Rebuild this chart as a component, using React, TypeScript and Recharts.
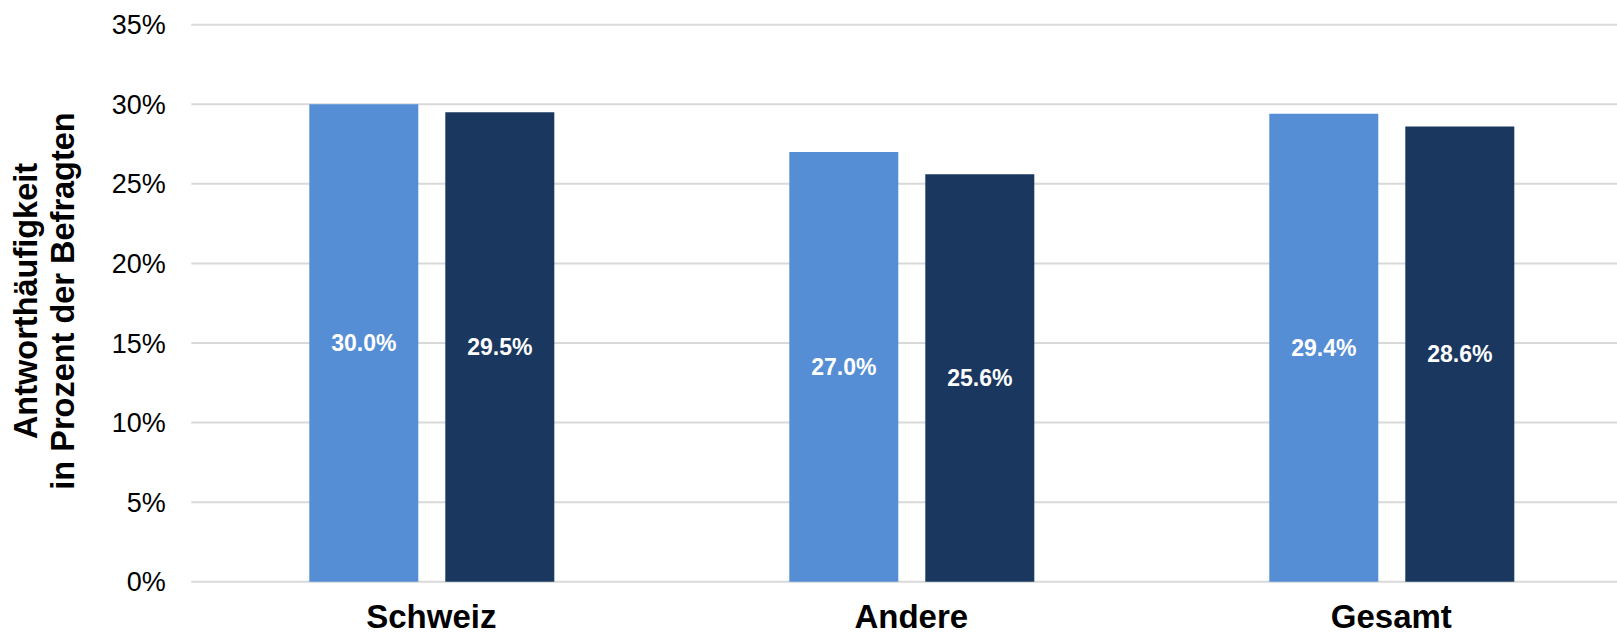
import React from "react";
import { BarChart, Bar, XAxis, YAxis, CartesianGrid, LabelList } from "recharts";

const categories = ["Schweiz", "Andere", "Gesamt"];
const seriesA = [30.0, 27.0, 29.4];
const seriesB = [29.5, 25.6, 28.6];
const yTicks = [0, 5, 10, 15, 20, 25, 30, 35];
const yLabelLines = ["Antworthäufigkeit", "in Prozent der Befragten"];

const data = categories.map((c, i) => ({ name: c, a: seriesA[i], b: seriesB[i] }));

const FONT = "'Liberation Sans', Arial, Helvetica, sans-serif";

const renderYLabel = () => (
  <g transform="translate(0,301) rotate(-90)">
    <text textAnchor="middle" fontFamily={FONT} fontWeight="bold" fontSize={32.5} fill="#000">
      <tspan x={0} y={37}>{yLabelLines[0]}</tspan>
      <tspan x={0} y={74}>{yLabelLines[1]}</tspan>
    </text>
  </g>
);

const fmt = (v: number) => `${v.toFixed(1)}%`;

export default function App() {
  return (
    <div
      style={{
        position: "absolute",
        left: 0,
        top: 0,
        width: 1617,
        height: 636,
        overflow: "hidden",
        background: "#fff",
      }}
    >
      <BarChart
        width={1640}
        height={636}
        data={data}
        margin={{ top: 24.7, right: 8.7, bottom: 0, left: 0 }}
        barSize={109}
        barGap={27}
      >
        <CartesianGrid vertical={false} stroke="#D9D9D9" strokeWidth={2} />
        <XAxis
          dataKey="name"
          axisLine={false}
          tickLine={false}
          height={54.3}
          tickMargin={17.3}
          tick={{ fontFamily: FONT, fontWeight: "bold", fontSize: 33, fill: "#000" }}
        />
        <YAxis
          width={191.3}
          domain={[0, 35]}
          ticks={yTicks}
          interval={0}
          axisLine={false}
          tickLine={false}
          tickMargin={19.6}
          tickFormatter={(v: number) => `${v}%`}
          tick={{ fontFamily: FONT, fontSize: 27, fill: "#000" }}
          label={{ content: renderYLabel }}
        />
        <Bar dataKey="a" fill="#558ED5" isAnimationActive={false}>
          <LabelList
            dataKey="a"
            position="center"
            formatter={fmt}
            fill="#fff"
            fontFamily={FONT}
            fontWeight="bold"
            fontSize={23}
          />
        </Bar>
        <Bar dataKey="b" fill="#19375F" isAnimationActive={false}>
          <LabelList
            dataKey="b"
            position="center"
            formatter={fmt}
            fill="#fff"
            fontFamily={FONT}
            fontWeight="bold"
            fontSize={23}
          />
        </Bar>
      </BarChart>
    </div>
  );
}
